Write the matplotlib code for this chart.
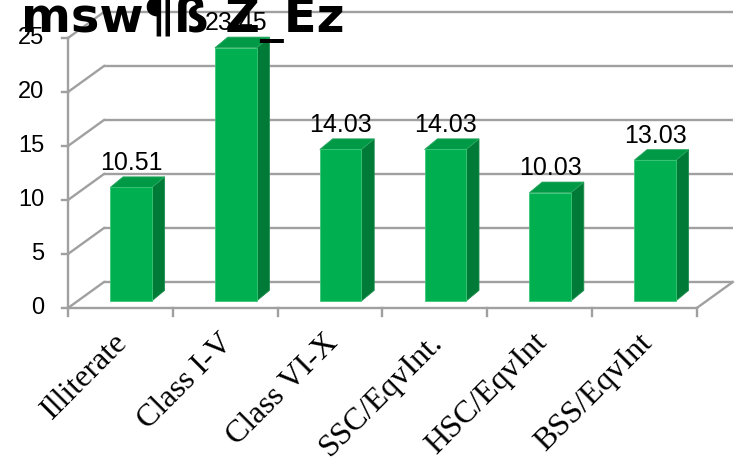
import matplotlib
matplotlib.use("Agg")
import matplotlib.pyplot as plt
from matplotlib.patches import Polygon

# ---- data ----
categories = ["Illiterate", "Class I-V", "Class VI-X", "SSC/EqvInt.", "HSC/EqvInt", "BSS/EqvInt"]
values = [10.51, 23.45, 14.03, 14.03, 10.03, 13.03]
yticks = [0, 5, 10, 15, 20, 25]
title = "msw¶ß Z_Ez"

# ---- style / geometry ----
W, H = 739, 462
fig = plt.figure(figsize=(W / 100, H / 100), dpi=100)
ax = fig.add_axes([0, 0, 1, 1])
ax.set_axis_off()

x0_px, cat_px = 68.0, 104.8
y0_px, unit_px = 308.0, 10.8
ax.set_xlim(-x0_px / cat_px, (W - x0_px) / cat_px)
ax.set_ylim(-(H - y0_px) / unit_px, y0_px / unit_px)

n = len(categories)
ymax = 25
ddx, ddy = 36 / cat_px, 26 / unit_px          # wall depth
grid_c = "#a0a0a0"
glw = 1.7

# back wall gridlines + side-wall diagonals
for t in yticks:
    ax.plot([ddx, n + ddx], [t + ddy, t + ddy], color=grid_c, lw=glw, zorder=1, solid_capstyle="butt")
    ax.plot([0, ddx], [t, t + ddy], color=grid_c, lw=glw, zorder=1)
    ax.plot([-6 / cat_px, 0], [t, t], color=grid_c, lw=glw, zorder=2)
    ax.text(-24 / cat_px, t, str(t), ha="right", va="center", fontsize=17,
            family="Liberation Sans", color="#000000", zorder=5)

# floor front edge and right edge
ax.plot([0, n], [0, 0], color=grid_c, lw=glw, zorder=2)
ax.plot([n, n + ddx], [0, ddy], color=grid_c, lw=glw, zorder=1)
# front vertical axis
ax.plot([0, 0], [-8 / unit_px, ymax], color=grid_c, lw=glw, zorder=2)
# category ticks
for i in range(1, n + 1):
    ax.plot([i, i], [0, -8 / unit_px], color=grid_c, lw=glw, zorder=2)

# bars
f0 = 0.27
bx_off = 0.31 + f0 * ddx
by_off = f0 * ddy
bw = 41.6 / cat_px
bdx, bdy = 12.8 / cat_px, 10.6 / unit_px
c_front, c_side, c_top = "#00B050", "#007A37", "#009A46"
edge = "#3cc878"
for i, v in enumerate(values):
    xl = i + bx_off
    xr = xl + bw
    b = by_off
    t = b + v
    side = Polygon([(xr, b), (xr + bdx, b + bdy), (xr + bdx, t + bdy), (xr, t)],
                   closed=True, facecolor=c_side, edgecolor="#1f8f4f", lw=0.6, zorder=3)
    top = Polygon([(xl, t), (xr, t), (xr + bdx, t + bdy), (xl + bdx, t + bdy)],
                  closed=True, facecolor=c_top, edgecolor="#2aa860", lw=0.6, zorder=3)
    front = Polygon([(xl, b), (xr, b), (xr, t), (xl, t)],
                    closed=True, facecolor=c_front, edgecolor=edge, lw=0.6, zorder=4)
    for p in (side, top, front):
        ax.add_patch(p)
    ax.text((xl + xr) / 2, t + bdy + 7 / unit_px, f"{v:.2f}", ha="center", va="baseline",
            fontsize=18, family="Liberation Sans", color="#000000", zorder=6)

# category labels
for i, c in enumerate(categories):
    ax.text(i + 0.5 - 7 / cat_px, -(328 - y0_px) / unit_px, c, rotation=45,
            rotation_mode="anchor", ha="right", va="top", fontsize=23,
            family="Liberation Serif", color="#000000", zorder=5)

# title
fig.text(21 / W, (H - 32) / H, title, ha="left", va="baseline", fontsize=34.5,
         fontweight="bold", family="DejaVu Sans", color="#000000", zorder=7)

fig.savefig("out.png", dpi=100)
